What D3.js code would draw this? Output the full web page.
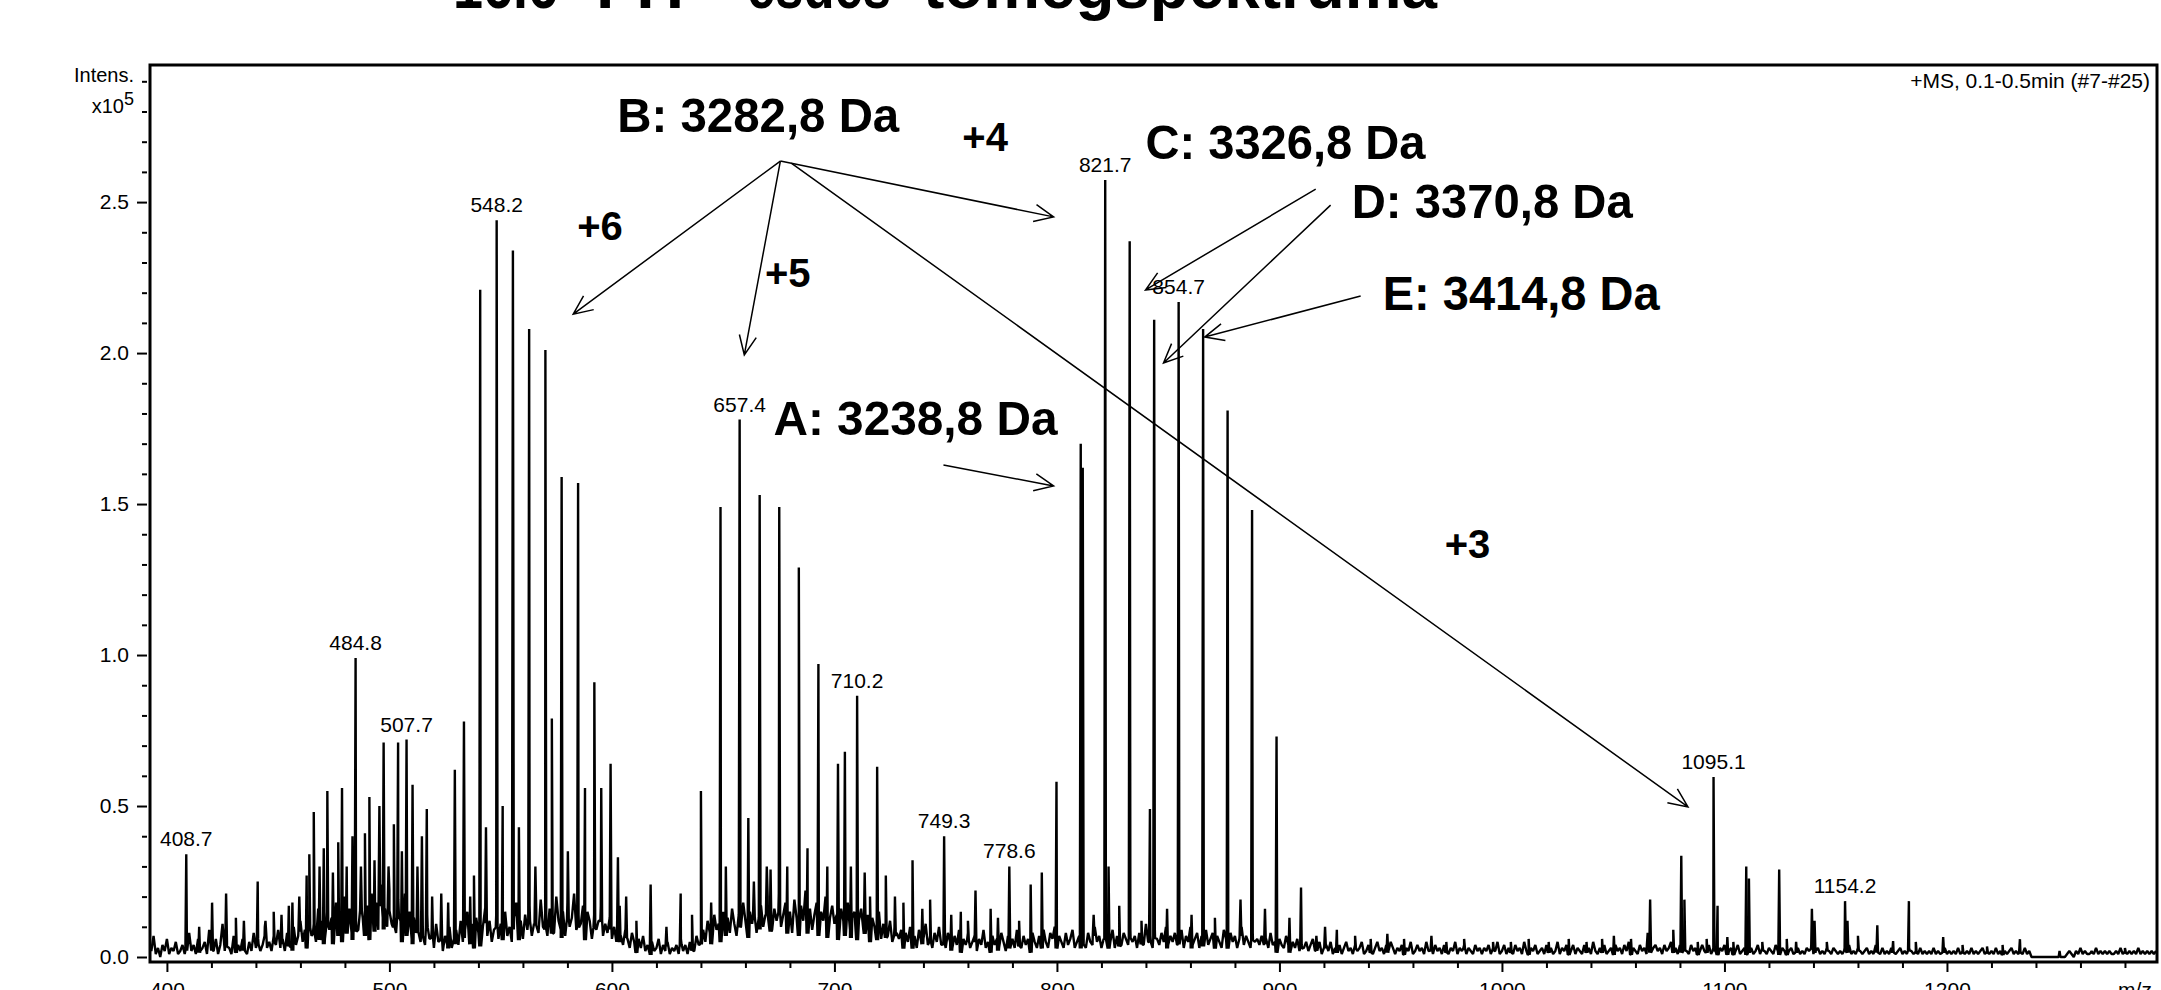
<!DOCTYPE html>
<html>
<head>
<meta charset="utf-8">
<script src="https://cdn.jsdelivr.net/npm/d3@7/dist/d3.min.js"></script>
<style>
	html, body { margin:0; padding:0; background:#fff; }
	svg { display:block; }
	text { font-family: "Liberation Sans", Arial, Helvetica, sans-serif; fill:#000; }
</style>
</head>
<body>
<div id="chart"></div>
<script>
"use strict";

// spectrum noise floor, read every 1 m/z (x10^5), one array per hundred
var noise400 = [.05,.02,.07,.01,.03,.00,.04,.02,.06,.01,.03,.02,.05,.01,.02,.04,.01,.03,.08,.02,
	.04,.01,.06,.02,.03,.05,.01,.09,.03,.02,.06,.01,.04,.11,.02,.05,.03,.01,.07,.02,
	.04,.02,.06,.03,.01,.05,.02,.08,.03,.06,.02,.04,.10,.03,.05,.02,.07,.04,.09,.03,
	.06,.02,.08,.05,.03,.10,.04,.07,.12,.05,.09,.04,.14,.07,.11,.05,.16,.08,.12,.06,
	.15,.09,.13,.06,.18,.10,.14,.07,.20,.11,.16,.08,.19,.12,.09,.22,.13,.10,.17,.08];
var noise500 = [.21,.12,.18,.09,.24,.13,.16,.10,.22,.11,.14,.08,.19,.12,.07,.21,.10,.15,.06,.13,
	.08,.12,.05,.10,.04,.14,.06,.09,.03,.11,.05,.08,.02,.07,.04,.10,.03,.06,.09,.04,
	.12,.05,.09,.15,.06,.11,.04,.13,.08,.05,.10,.16,.07,.12,.05,.09,.14,.06,.11,.08,
	.15,.07,.10,.05,.13,.18,.08,.12,.06,.14,.09,.17,.07,.11,.15,.08,.19,.10,.13,.07,
	.16,.11,.08,.20,.12,.09,.15,.07,.18,.10,.13,.21,.09,.14,.11,.17,.08,.15,.12,.06];
var noise600 = [.14,.09,.12,.17,.07,.11,.08,.13,.06,.10,.05,.12,.07,.04,.09,.06,.03,.08,.05,.02,
	.06,.03,.07,.02,.04,.01,.05,.02,.03,.06,.01,.04,.02,.05,.01,.03,.02,.04,.01,.06,
	.02,.04,.01,.05,.03,.02,.07,.04,.06,.09,.05,.12,.08,.06,.14,.09,.11,.07,.15,.10,
	.13,.08,.16,.11,.07,.14,.10,.18,.12,.09,.15,.11,.19,.08,.13,.17,.10,.14,.20,.12,
	.09,.16,.12,.21,.10,.14,.18,.11,.15,.08,.19,.13,.10,.17,.12,.22,.11,.16,.09,.14];
var noise700 = [.18,.10,.15,.12,.20,.09,.13,.17,.11,.14,.08,.16,.12,.10,.18,.09,.13,.15,.08,.12,
	.16,.09,.11,.14,.07,.13,.10,.08,.15,.06,.11,.09,.07,.12,.05,.10,.08,.06,.09,.04,
	.08,.05,.10,.04,.07,.03,.09,.05,.06,.11,.04,.07,.03,.08,.05,.10,.04,.06,.03,.08,
	.05,.03,.07,.04,.09,.02,.06,.04,.08,.03,.05,.07,.02,.06,.04,.09,.03,.05,.02,.07,
	.04,.06,.03,.08,.05,.02,.07,.04,.06,.03,.09,.05,.03,.07,.04,.06,.02,.08,.05,.03];
var noise800 = [.07,.04,.09,.05,.03,.08,.06,.10,.04,.07,.05,.03,.08,.04,.06,.09,.03,.05,.07,.04,
	.06,.03,.08,.05,.04,.10,.05,.07,.03,.06,.08,.04,.05,.09,.03,.07,.05,.04,.08,.06,
	.04,.09,.05,.07,.03,.08,.06,.04,.11,.05,.07,.03,.09,.06,.04,.08,.05,.10,.04,.07,
	.05,.08,.04,.06,.09,.03,.07,.05,.10,.04,.06,.08,.03,.07,.05,.09,.04,.06,.08,.04,
	.07,.05,.03,.09,.06,.04,.08,.05,.07,.03,.06,.10,.04,.07,.05,.03,.08,.05,.06,.04];
var noise900 = [.07,.04,.06,.03,.08,.04,.05,.02,.06,.04,.03,.07,.04,.02,.05,.03,.06,.02,.04,.03,
	.05,.02,.04,.06,.02,.03,.05,.01,.03,.04,.02,.05,.01,.03,.02,.04,.01,.03,.05,.02,
	.03,.01,.04,.02,.03,.05,.01,.02,.04,.02,.01,.03,.05,.02,.03,.01,.04,.02,.05,.03,
	.01,.03,.02,.04,.01,.03,.02,.05,.01,.02,.04,.02,.03,.01,.05,.02,.03,.01,.04,.02,
	.03,.01,.04,.02,.01,.03,.02,.05,.01,.03,.02,.04,.01,.03,.02,.01,.04,.02,.03,.01];
var noise1000 = [.03,.02,.04,.01,.03,.02,.05,.01,.02,.04,.01,.03,.02,.01,.04,.02,.03,.01,.05,.02,
	.01,.03,.02,.04,.01,.02,.03,.01,.04,.02,.03,.01,.02,.05,.01,.03,.02,.04,.01,.02,
	.04,.01,.03,.02,.01,.04,.02,.03,.01,.05,.02,.01,.03,.02,.04,.01,.02,.03,.01,.04,
	.02,.03,.01,.04,.02,.05,.01,.03,.02,.01,.04,.02,.03,.01,.05,.02,.03,.04,.02,.03,
	.01,.04,.02,.03,.05,.02,.03,.01,.04,.02,.03,.02,.01,.04,.02,.03,.01,.02,.04,.02];
var noise1100 = [.02,.04,.01,.03,.02,.01,.03,.02,.04,.01,.02,.03,.01,.02,.04,.01,.02,.03,.01,.02,
	.03,.01,.02,.04,.01,.03,.02,.01,.03,.02,.01,.04,.02,.01,.03,.02,.01,.02,.03,.01,
	.02,.03,.01,.02,.01,.03,.02,.04,.01,.02,.03,.01,.02,.01,.03,.02,.01,.03,.02,.01,
	.02,.01,.03,.02,.04,.01,.02,.01,.03,.02,.01,.02,.03,.01,.02,.01,.04,.02,.01,.03,
	.01,.02,.01,.03,.02,.01,.02,.03,.01,.02,.01,.03,.02,.01,.02,.01,.03,.01,.02,.01];
var noise1200 = [.02,.01,.03,.01,.02,.01,.02,.03,.01,.02,.01,.02,.01,.03,.01,.02,.01,.02,.01,.03,
	.01,.02,.01,.02,.03,.01,.02,.01,.02,.01,.03,.01,.02,.01,.02,.01,.02,.03,.01,.02,
	.01,.02,.01,.03,.01,.02,0,0,0,0,0,0,0,0,0,0,0,0,0,0,
	0,0,.01,.02,.01,0,.02,.01,.03,.01,.02,.01,.01,.02,.01,.03,.01,.02,.01,.02,
	.01,.02,.01,.01,.02,.01,.03,.01,.02,.01,.02,.01,.02,.01,.03,.01,.02,.01,.02,.01,
	.02,.01,.02];
var noiseStart = 392, noiseStep = 1;

// centroid peaks: m/z and intensity (x10^5)
var peakMz = [408.7,420.3,426.6,434.6,440.8,448.0,454.8,456.4,
	462.8,464.0,466.0,468.6,470.5,472.1,474.6,477.0,478.7,480.8,483.4,484.8,487.2,489.0,491.0,493.3,
	495.5,497.4,499.6,502.0,503.9,505.6,507.7,510.4,512.6,514.6,516.8,519.2,523.3,526.4,529.4,533.5,536.3,538.0,
	540.8,543.4,548.2,550.9,555.5,558.2,562.8,565.6,570.1,573.0,577.4,580.2,584.8,587.9,592.1,595.2,599.4,602.7,606.4,617.4,630.9,
	640.0,644.6,648.8,651.2,657.4,661.3,663.8,666.4,669.6,671.3,675.2,678.8,684.0,687.9,692.8,696.8,701.6,704.7,707.4,710.2,
	713.6,719.2,723.1,727.2,735.1,743.0,749.3,756.8,763.4,770.2,778.6,788.2,793.2,799.8,
	810.7,811.6,821.7,823.2,832.7,841.8,843.7,854.7,865.7,876.7,887.7,898.7,904.5,909.7,916.6,
	948.5,968.3,1050.3,1065.5,1066.6,1077.0,1080.6,1082.0,1092.0,1095.1,1096.9,1101.3,1109.8,1111.0,1124.6,
	1132.2,1139.3,1140.5,1154.2,1155.3,1168.7,1175.8,1182.9,1198.3,1218.0,1232.8,1250.6];
var peakInt = [.34,.18,.21,.12,.25,.15,.17,.18,
	.27,.34,.48,.30,.36,.55,.28,.38,.56,.30,.40,.99,.30,.41,.53,.32,
	.50,.71,.30,.44,.71,.35,.72,.57,.30,.40,.49,.20,.21,.18,.62,.78,.20,.27,
	2.21,.43,2.44,.50,2.34,.43,2.08,.30,2.01,.79,1.59,.35,1.57,.56,.91,.56,.64,.33,.20,.24,.21,
	.55,.18,1.49,.30,1.78,.46,.25,1.53,.30,.29,1.49,.30,1.29,.36,.97,.30,.64,.68,.30,.865,
	.28,.63,.27,.20,.32,.19,.40,.15,.22,.16,.30,.24,.28,.58,
	1.70,1.62,2.573,.30,2.37,.49,2.11,2.169,2.08,1.81,1.48,.73,.13,.23,.07,
	.077,.07,.07,.08,.19,.09,.335,.19,.06,.596,.17,.066,.30,.26,.29,
	.05,.16,.12,.185,.12,.105,.053,.185,.066,.035,.059,.02];

// smaller spikes sitting in the noise
var minorMz = [414.5,431.0,444.3,451.5,459.5,603.5,611.0,624.5,636.0,716.0,731.0,739.5,752.5,760.0,773.5,783.0,
	816.5,828.0,838.0,849.5,860.5,871.0,882.5,893.5,920.5,925.8,934.0,941.0,956.0,975.0,983.0,996.0,
	1004.0,1012.0,1021.0,1030.0,1038.0,1045.0,1058.0,1088.0,1104.0,1117.0,1128.0,1146.0,1160.0,1186.0,
	1207.0,1225.0,1265.0,1280.0];
var minorInt = [.10,.13,.12,.14,.20,.17,.12,.10,.14,.20,.18,.16,.14,.12,.13,.12,
	.14,.17,.12,.16,.14,.13,.19,.16,.10,.09,.07,.06,.06,.05,.06,.05,
	.05,.06,.05,.06,.05,.06,.06,.05,.05,.05,.06,.05,.07,.05,
	.04,.04,.02,.03];

// labelled peaks
var labelMz = [408.7,484.8,507.7,548.2,657.4,710.2,749.3,778.6,821.7,854.7,1095.1,1154.2];

// axis ticks
var yMajor = [0,0.5,1.0,1.5,2.0,2.5];
var yMinor = d3.range(0,30).map(function(i){return i/10;}).filter(function(v){return Math.round(v*10)%5 !== 0;});
var xMajor = [400,500,600,700,800,900,1000,1100,1200];
var xMinor = d3.range(400,1281,20).filter(function(v){return v%100 !== 0;});

// annotations (placed in data units)
var massNames = ["A: 3238,8 Da","B: 3282,8 Da","C: 3326,8 Da","D: 3370,8 Da","E: 3414,8 Da"];
var massPos = [[672.6,1.729,284],[602.4,2.732,282],[839.8,2.643,280],[932.5,2.447,281],[946.4,2.143,277]];
var chargeNames = ["+6","+5","+4","+3"];
var chargePos = [[584.4,2.374],[668.8,2.219],[757.5,2.669],[974.3,1.321]];
var arrows = [
	[675.7,2.636,582.6,2.129],
	[675.7,2.636,659.5,1.994],
	[675.7,2.636,798.5,2.451],
	[680.6,2.629,1083.6,0.497],
	[916.3,2.543,839.8,2.209],
	[923.0,2.490,847.9,1.967],
	[936.5,2.189,866.4,2.053],
	[749.0,1.629,798.5,1.560]
];

var titleParts = [["16.6",453,105],["FIT",596,99],["esdes",747,144],["tömegspektruma",923,514]];

var width = 2161, height = 990;
var frame = {left:150, top:65, right:2157, bottom:962};

var svg = d3.select("#chart")
	.append("svg")
	.attr("width", width)
	.attr("height", height);

var x = d3.scaleLinear().domain([392.4, 1294.4]).range([frame.left, frame.right]);
var y = d3.scaleLinear().domain([0, 2.954]).range([957, frame.top]);

// title (cut at the top edge)
svg.selectAll("text.title")
	.data(titleParts)
	.enter().append("text")
	.attr("class","title")
	.attr("x", function(d){return d[1];})
	.attr("y", 8)
	.attr("textLength", function(d){return d[2];})
	.attr("lengthAdjust","spacingAndGlyphs")
	.style("font-size","64px")
	.style("font-weight","bold")
	.text(function(d){return d[0];});

// spectrum
var noiseBlocks = [noise400,noise500,noise600,noise700,noise800,noise900,noise1000,noise1100,noise1200];
var noise = [];
noiseBlocks.forEach(function(b){
	b.forEach(function(v){
		noise.push([noiseStart + noise.length*noiseStep, v]);
	});
});
function noiseAt(m){
	var i = Math.round((m - noiseStart)/noiseStep);
	i = Math.max(0, Math.min(noise.length-1, i));
	return noise[i][1];
}
var pts = noise.slice();
function addSpike(pm, h){
	var nb = noiseAt(pm)*0.7;
	pts.push([pm-0.4, nb], [pm, h], [pm+0.4, nb]);
}
peakMz.forEach(function(pm, i){ addSpike(pm, peakInt[i]); });
minorMz.forEach(function(pm, i){ addSpike(pm, minorInt[i]); });
pts.sort(function(a,b){return a[0]-b[0];});

svg.append("clipPath").attr("id","plotclip")
	.append("rect")
	.attr("x", frame.left+1).attr("y", frame.top+1)
	.attr("width", frame.right-frame.left-2).attr("height", frame.bottom-frame.top-2);

var line = d3.line()
	.x(function(d){return x(d[0]);})
	.y(function(d){return y(d[1]);});

svg.append("path")
	.datum(pts)
	.attr("clip-path","url(#plotclip)")
	.attr("d", line)
	.style("fill","none")
	.style("stroke","#000")
	.style("stroke-width",2.4)
	.style("stroke-linejoin","bevel");

// frame
svg.append("rect")
	.attr("x", frame.left).attr("y", frame.top)
	.attr("width", frame.right-frame.left).attr("height", frame.bottom-frame.top)
	.style("fill","none").style("stroke","#000").style("stroke-width",3);

// axes
var yAxis = svg.append("g").attr("transform","translate(147,0)")
	.call(d3.axisLeft(y).tickValues(yMajor).tickFormat(d3.format(".1f")).tickSize(10).tickPadding(8));
var yAxisMinor = svg.append("g").attr("transform","translate(147,0)")
	.call(d3.axisLeft(y).tickValues(yMinor).tickFormat("").tickSize(5));
var xAxis = svg.append("g").attr("transform","translate(0,"+(frame.bottom+1)+")")
	.call(d3.axisBottom(x).tickValues(xMajor).tickFormat(d3.format("d")).tickSize(9).tickPadding(10));
var xAxisMinor = svg.append("g").attr("transform","translate(0,"+(frame.bottom+1)+")")
	.call(d3.axisBottom(x).tickValues(xMinor).tickFormat("").tickSize(5));

[yAxis,yAxisMinor,xAxis,xAxisMinor].forEach(function(a){
	a.select(".domain").remove();
	a.selectAll(".tick line").style("stroke","#000").style("stroke-width",2);
	a.selectAll(".tick text").style("font-size","21px").style("fill","#000");
	a.attr("font-family",null);
});

svg.append("text")
	.attr("x",134).attr("y",y(2.9)+1)
	.attr("text-anchor","end")
	.style("font-size","20px")
	.text("Intens.");
var xl = svg.append("text")
	.attr("x",134).attr("y",y(2.8)+1)
	.attr("text-anchor","end")
	.style("font-size","20px");
xl.append("tspan").text("x10");
xl.append("tspan").attr("dy",-8).style("font-size","18px").text("5");

svg.append("text")
	.attr("x",2135).attr("y",997)
	.attr("text-anchor","middle")
	.style("font-size","21px")
	.text("m/z");

svg.append("text")
	.attr("x",2150).attr("y",88)
	.attr("text-anchor","end")
	.style("font-size","21px")
	.text("+MS, 0.1-0.5min (#7-#25)");

// peak labels
svg.selectAll("text.peaklabel")
	.data(labelMz)
	.enter().append("text")
	.attr("class","peaklabel")
	.attr("x", function(d){return x(d);})
	.attr("y", function(d){return y(peakInt[peakMz.indexOf(d)]) - 8;})
	.attr("text-anchor","middle")
	.style("font-size","21px")
	.text(function(d){return d3.format(".1f")(d);});

// arrows
var ag = svg.append("g").style("stroke","#000").style("stroke-width",1.5).style("fill","none");
arrows.forEach(function(a){
	var x1 = x(a[0]), y1 = y(a[1]), x2 = x(a[2]), y2 = y(a[3]);
	var ang = Math.atan2(y2-y1, x2-x1);
	var hl = 21, spread = 0.42;
	var p = d3.path();
	p.moveTo(x1,y1); p.lineTo(x2,y2);
	p.moveTo(x2 + hl*Math.cos(ang+Math.PI-spread), y2 + hl*Math.sin(ang+Math.PI-spread));
	p.lineTo(x2,y2);
	p.lineTo(x2 + hl*Math.cos(ang+Math.PI+spread), y2 + hl*Math.sin(ang+Math.PI+spread));
	ag.append("path").attr("d", p.toString());
});

// mass labels
svg.selectAll("text.mass")
	.data(massNames)
	.enter().append("text")
	.attr("class","mass")
	.attr("x", function(d,i){return x(massPos[i][0]);})
	.attr("y", function(d,i){return y(massPos[i][1]);})
	.attr("textLength", function(d,i){return massPos[i][2];})
	.attr("lengthAdjust","spacingAndGlyphs")
	.style("font-size","49px")
	.style("font-weight","bold")
	.text(function(d){return d;});

svg.selectAll("text.charge")
	.data(chargeNames)
	.enter().append("text")
	.attr("class","charge")
	.attr("x", function(d,i){return x(chargePos[i][0]);})
	.attr("y", function(d,i){return y(chargePos[i][1]);})
	.style("font-size","40px")
	.style("font-weight","bold")
	.text(function(d){return d;});
</script>
</body>
</html>
